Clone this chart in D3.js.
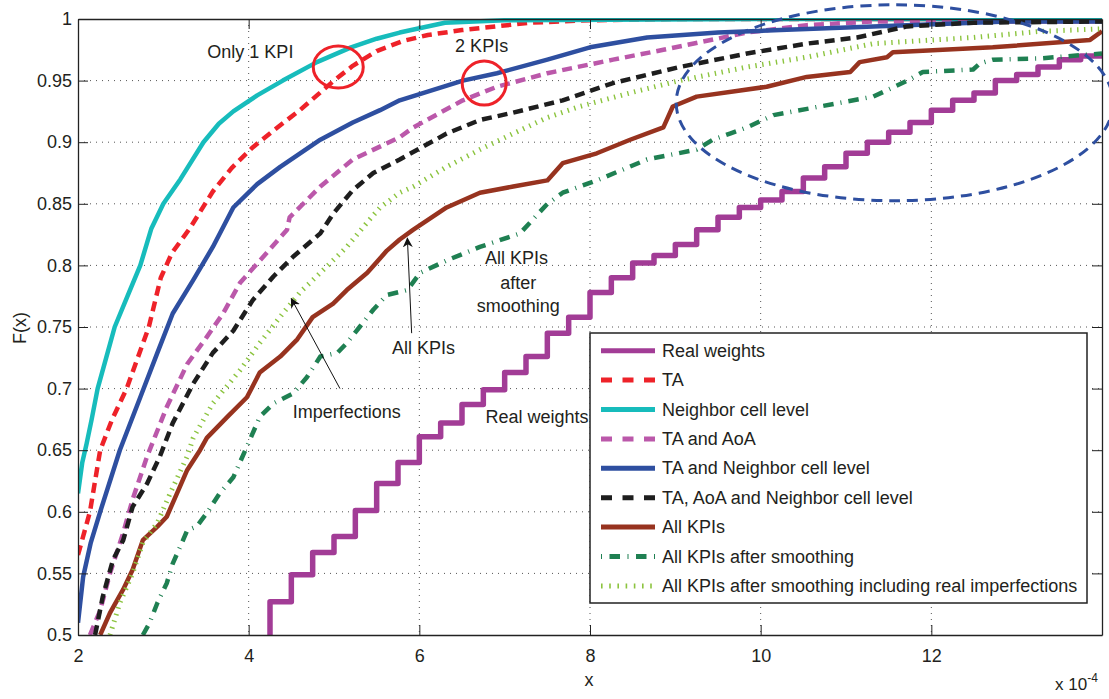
<!DOCTYPE html>
<html>
<head>
<meta charset="utf-8">
<script src="https://cdn.jsdelivr.net/npm/d3@7"></script>
<style>
  html, body { margin: 0; padding: 0; background: #fff; }
  svg { display: block; font-family: "Liberation Sans", Arial, Helvetica, sans-serif; }
  text { fill: #231f20; }
</style>
</head>
<body>
<svg id="chart" width="1109" height="699"></svg>
<script>
// ---------------- DATA ----------------
const xTicks = [2, 4, 6, 8, 10, 12];
const yTicks = [0.5, 0.55, 0.6, 0.65, 0.7, 0.75, 0.8, 0.85, 0.9, 0.95, 1];
const yTickLabels = ["0.5", "0.55", "0.6", "0.65", "0.7", "0.75", "0.8", "0.85", "0.9", "0.95", "1"];

const seriesNames = [
  "Real weights", "TA", "Neighbor cell level", "TA and AoA",
  "TA and Neighbor cell level", "TA, AoA and Neighbor cell level",
  "All KPIs", "All KPIs after smoothing",
  "All KPIs after smoothing including real imperfections"
];

const realX = [4.25,4.5,4.75,5,5.25,5.5,5.75,6,6.25,6.5,6.75,7,7.25,7.5,7.75,8,8.25,8.5,8.75,9,9.25,9.5,9.75,10,10.25,10.5,10.75,11,11.25,11.5,11.75,12,12.25,12.5,12.75,13,13.25,13.5,13.75,14];
const realF = [0.5,0.527,0.549,0.567,0.58,0.601,0.623,0.64,0.661,0.672,0.687,0.699,0.713,0.726,0.745,0.758,0.778,0.790,0.802,0.808,0.817,0.829,0.839,0.847,0.853,0.860,0.871,0.88,0.891,0.90,0.908,0.916,0.926,0.934,0.94,0.95,0.955,0.961,0.967,0.97];

const taX = [2.0,2.14,2.26,2.4,2.57,2.7,2.83,2.97,3.1,3.31,3.58,3.8,4.05,4.3,4.6,4.8,5.0,5.22,5.5,5.8,6.1,6.5,7.3,8.0,9.0,14];
const taF = [0.565,0.60,0.65,0.675,0.70,0.725,0.75,0.79,0.81,0.83,0.86,0.879,0.896,0.91,0.926,0.938,0.95,0.962,0.974,0.982,0.987,0.991,0.997,0.999,1.0,1.0];

const nbX = [2.0,2.05,2.1,2.16,2.23,2.33,2.43,2.58,2.73,2.86,3.0,3.2,3.47,3.65,3.82,4.1,4.4,4.8,5.2,5.5,5.77,6.3,7.0,10,14];
const nbF = [0.615,0.64,0.655,0.675,0.70,0.725,0.75,0.775,0.80,0.83,0.85,0.87,0.90,0.915,0.925,0.938,0.95,0.965,0.977,0.984,0.989,0.997,0.999,1.0,1.0];

const aoaX = [2.14,2.26,2.375,2.53,2.64,2.81,3.04,3.28,3.51,3.70,3.90,4.21,4.45,4.48,4.84,5.22,5.77,5.93,6.51,6.91,7.50,8.27,8.86,9.84,10.54,11.32,14];
const aoaF = [0.50,0.52,0.55,0.583,0.61,0.645,0.685,0.72,0.742,0.761,0.786,0.81,0.829,0.839,0.864,0.886,0.904,0.912,0.934,0.945,0.956,0.967,0.975,0.989,0.995,0.998,0.998];

const tanbX = [2.0,2.06,2.15,2.26,2.49,2.73,2.93,3.11,3.35,3.58,3.82,4.1,4.37,4.84,5.22,5.54,5.77,6.51,6.91,7.5,8.0,8.67,9.5,10.23,11.32,12.89,14];
const tanbF = [0.51,0.547,0.575,0.60,0.65,0.693,0.729,0.761,0.788,0.815,0.847,0.866,0.88,0.902,0.916,0.926,0.934,0.95,0.956,0.967,0.977,0.985,0.989,0.991,0.994,0.998,0.998];

const allNoX = [2.2,2.29,2.41,2.53,2.64,2.81,2.96,3.11,3.35,3.58,3.82,4.05,4.29,4.52,4.84,4.99,5.22,5.46,5.77,6.32,6.71,7.10,7.68,8.27,9.05,9.84,10.54,11.13,11.52,11.72,12.49,14];
const allNoF = [0.5,0.531,0.561,0.577,0.604,0.623,0.645,0.672,0.704,0.729,0.747,0.772,0.791,0.807,0.826,0.842,0.861,0.875,0.886,0.907,0.918,0.924,0.934,0.948,0.961,0.972,0.980,0.985,0.991,0.994,0.997,0.998];

const allKpiX = [2.26,2.375,2.53,2.64,2.76,2.93,3.04,3.16,3.28,3.43,3.51,3.75,3.98,4.13,4.37,4.57,4.75,4.99,5.15,5.39,5.62,5.77,5.93,6.32,6.71,7.10,7.50,7.68,8.08,8.47,8.86,8.97,9.25,9.76,10.07,10.54,11.05,11.16,11.48,11.55,12.72,13.86,14];
const allKpiF = [0.5,0.518,0.537,0.553,0.577,0.588,0.596,0.615,0.634,0.65,0.66,0.677,0.693,0.713,0.726,0.74,0.758,0.769,0.78,0.794,0.812,0.821,0.829,0.847,0.859,0.864,0.869,0.883,0.891,0.902,0.912,0.929,0.937,0.942,0.945,0.953,0.957,0.965,0.969,0.973,0.977,0.983,0.99];

const smoothX = [2.76,2.84,2.93,3.04,3.11,3.20,3.28,3.39,3.51,3.66,3.82,3.98,4.13,4.29,4.52,4.68,4.84,5.04,5.15,5.30,5.46,5.62,5.86,6.01,6.32,6.71,7.18,7.50,7.68,8.08,8.67,9.25,9.44,9.64,9.84,10.15,10.93,11.32,11.72,11.90,12.49,12.57,12.72,13.27,14];
const smoothF = [0.5,0.51,0.526,0.542,0.558,0.572,0.585,0.588,0.599,0.615,0.628,0.653,0.677,0.688,0.696,0.709,0.726,0.729,0.737,0.75,0.764,0.776,0.78,0.794,0.804,0.815,0.826,0.85,0.859,0.869,0.886,0.894,0.902,0.907,0.912,0.922,0.932,0.937,0.95,0.957,0.959,0.964,0.967,0.968,0.972];

const imperfX = [2.375,2.49,2.64,2.76,2.93,3.08,3.28,3.35,3.58,3.90,4.13,4.40,4.60,4.84,5.15,5.39,5.54,5.77,5.93,6.32,6.71,7.10,7.50,7.88,8.47,9.05,9.84,10.54,11.32,12.49,13.28,14];
const imperfF = [0.5,0.526,0.55,0.575,0.591,0.615,0.645,0.66,0.688,0.715,0.737,0.761,0.778,0.794,0.815,0.835,0.847,0.859,0.864,0.88,0.894,0.907,0.920,0.929,0.94,0.95,0.961,0.969,0.98,0.985,0.99,0.992];

const seriesX = [realX, taX, nbX, aoaX, tanbX, allNoX, allKpiX, smoothX, imperfX];
const seriesF = [realF, taF, nbF, aoaF, tanbF, allNoF, allKpiF, smoothF, imperfF];

// ---------------- STYLE ----------------
const styles = [
  { color: "#a23c96", width: 5.5, dash: null, step: true },
  { color: "#ee2229", width: 4.5, dash: "10,6" },
  { color: "#17bcbc", width: 4.5, dash: null },
  { color: "#bb58aa", width: 4.5, dash: "10,6" },
  { color: "#2e4fa0", width: 4.5, dash: null },
  { color: "#1e1e1e", width: 4.5, dash: "10,6" },
  { color: "#97331f", width: 4.5, dash: null },
  { color: "#1f8052", width: 4.5, dash: "10.5,7,1,7" },
  { color: "#8cc43f", width: 5, dash: "1.4,5.5" }
];
const legendDash = [null, "11,10.5", null, "11,10.5", null, "11,10.5", null, "1,7.5,10.5,7.5", "1.6,6.6"];

// ---------------- LAYOUT ----------------
const svg = d3.select("#chart");
const L = 78, R = 1102, T = 19, B = 635;
const x = d3.scaleLinear().domain([2, 14]).range([L, R]);
const y = d3.scaleLinear().domain([0.5, 1]).range([B, T]);

svg.append("defs").append("clipPath").attr("id", "plotclip")
  .append("rect").attr("x", L).attr("y", T - 1).attr("width", R - L).attr("height", B - T + 1);

// grid
const grid = svg.append("g");
xTicks.forEach(t => {
  if (t === 2) return;
  grid.append("line").attr("x1", x(t)).attr("x2", x(t)).attr("y1", T).attr("y2", B)
    .attr("stroke", "#555").attr("stroke-width", 1).attr("stroke-dasharray", "1,5");
});
yTicks.forEach(t => {
  if (t === 0.5 || t === 1) return;
  grid.append("line").attr("x1", L).attr("x2", R).attr("y1", y(t)).attr("y2", y(t))
    .attr("stroke", "#555").attr("stroke-width", 1).attr("stroke-dasharray", "1,5");
});

// curves
const curves = svg.append("g").attr("clip-path", "url(#plotclip)");
seriesX.forEach((xs, i) => {
  const pts = xs.map((v, k) => [v, seriesF[i][k]]);
  const st = styles[i];
  const line = d3.line().x(d => x(d[0])).y(d => y(d[1]))
    .curve(st.step ? d3.curveStepBefore : d3.curveLinear);
  curves.append("path").attr("d", line(pts))
    .attr("fill", "none").attr("stroke", st.color).attr("stroke-width", st.width)
    .attr("stroke-dasharray", st.dash).attr("stroke-linejoin", "round");
});

// axes (Matlab-like box with inward ticks)
const axG = svg.append("g");
const tickLen = 10;
const bottomAxis = d3.axisBottom(x).tickValues(xTicks).tickSizeInner(-tickLen).tickSizeOuter(0).tickPadding(14);
const leftAxis = d3.axisLeft(y).tickValues(yTicks).tickFormat((d, i) => yTickLabels[i]).tickSizeInner(-tickLen).tickSizeOuter(0).tickPadding(6);
const topAxis = d3.axisTop(x).tickValues(xTicks).tickSizeInner(-tickLen).tickSizeOuter(0).tickFormat("");
const rightAxis = d3.axisRight(y).tickValues(yTicks).tickSizeInner(-tickLen).tickSizeOuter(0).tickFormat("");

const gb = axG.append("g").attr("transform", `translate(0,${B})`).call(bottomAxis);
const gl = axG.append("g").attr("transform", `translate(${L},0)`).call(leftAxis);
const gt = axG.append("g").attr("transform", `translate(0,${T})`).call(topAxis);
const gr = axG.append("g").attr("transform", `translate(${R},0)`).call(rightAxis);
[gb, gl, gt, gr].forEach(g => {
  g.selectAll("path").attr("stroke", "#222").attr("stroke-width", 1.3);
  g.selectAll("line").attr("stroke", "#222").attr("stroke-width", 1);
  g.selectAll("text").attr("font-size", 18).attr("fill", "#231f20")
    .attr("font-family", "'Liberation Sans', Arial, sans-serif");
});

// axis labels
svg.append("text").attr("x", (L + R) / 2 - 1).attr("y", 686).attr("text-anchor", "middle")
  .attr("font-size", 18).text("x");
svg.append("text").attr("transform", "translate(26,328) rotate(-90)").attr("text-anchor", "middle")
  .attr("font-size", 18).text("F(x)");
const mult = svg.append("text").attr("x", 1055).attr("y", 690).attr("font-size", 17);
mult.append("tspan").text("x 10");
mult.append("tspan").attr("dy", -8).attr("font-size", 12).text("-4");

// annotations
const ann = svg.append("g");
function label(tx, ty, str) {
  ann.append("text").attr("x", x(tx)).attr("y", y(ty)).attr("text-anchor", "middle")
    .attr("dominant-baseline", "central").attr("font-size", 18).text(str);
}
label(4.02, 0.973, "Only 1 KPI");
label(6.73, 0.978, "2 KPIs");
label(7.14, 0.806, "All KPIs");
label(7.16, 0.786, "after");
label(7.16, 0.767, "smoothing");
label(6.05, 0.733, "All KPIs");
label(5.15, 0.681, "Imperfections");
label(7.38, 0.677, "Real weights");

// red circles
ann.append("ellipse").attr("cx", x(5.05)).attr("cy", y(0.961)).attr("rx", 25).attr("ry", 21)
  .attr("fill", "none").attr("stroke", "#ee2229").attr("stroke-width", 3);
ann.append("ellipse").attr("cx", x(6.76)).attr("cy", y(0.948)).attr("rx", 22).attr("ry", 22)
  .attr("fill", "none").attr("stroke", "#ee2229").attr("stroke-width", 3);
// blue dashed ellipse
ann.append("ellipse").attr("cx", x(11.57)).attr("cy", y(0.932))
  .attr("rx", x(11.57 + 2.56) - x(11.57)).attr("ry", y(0.932) - y(0.932 + 0.0795))
  .attr("fill", "none").attr("stroke", "#2e4fa0").attr("stroke-width", 3).attr("stroke-dasharray", "11,7");

// arrows
const defs = svg.select("defs");
defs.append("marker").attr("id", "arr").attr("viewBox", "0 0 10 10").attr("refX", 9).attr("refY", 5)
  .attr("markerWidth", 10).attr("markerHeight", 10).attr("markerUnits", "userSpaceOnUse").attr("orient", "auto")
  .append("path").attr("d", "M0,0 L10,5 L0,10 L3,5 Z").attr("fill", "#111");
function arrow(x1, y1, x2, y2) {
  ann.append("line").attr("x1", x(x1)).attr("y1", y(y1)).attr("x2", x(x2)).attr("y2", y(y2))
    .attr("stroke", "#111").attr("stroke-width", 1).attr("marker-end", "url(#arr)");
}
arrow(5.91, 0.745, 5.86, 0.822);
arrow(5.07, 0.700, 4.50, 0.773);

// legend
const lg = svg.append("g");
const lgX = 590, lgY = 333, lgW = 497, lgH = 270;
lg.append("rect").attr("x", lgX).attr("y", lgY).attr("width", lgW).attr("height", lgH)
  .attr("fill", "#fff").attr("stroke", "#222").attr("stroke-width", 1.5);
seriesNames.forEach((name, i) => {
  const cy = 350.7 + i * 29.4;
  const st = styles[i];
  lg.append("line").attr("x1", 601).attr("x2", 655).attr("y1", cy).attr("y2", cy)
    .attr("stroke", st.color).attr("stroke-width", i === 8 ? 5 : 5)
    .attr("stroke-dasharray", legendDash[i]);
  lg.append("text").attr("x", 662).attr("y", cy).attr("dominant-baseline", "central")
    .attr("font-size", 18).text(name);
});
</script>
</body>
</html>
